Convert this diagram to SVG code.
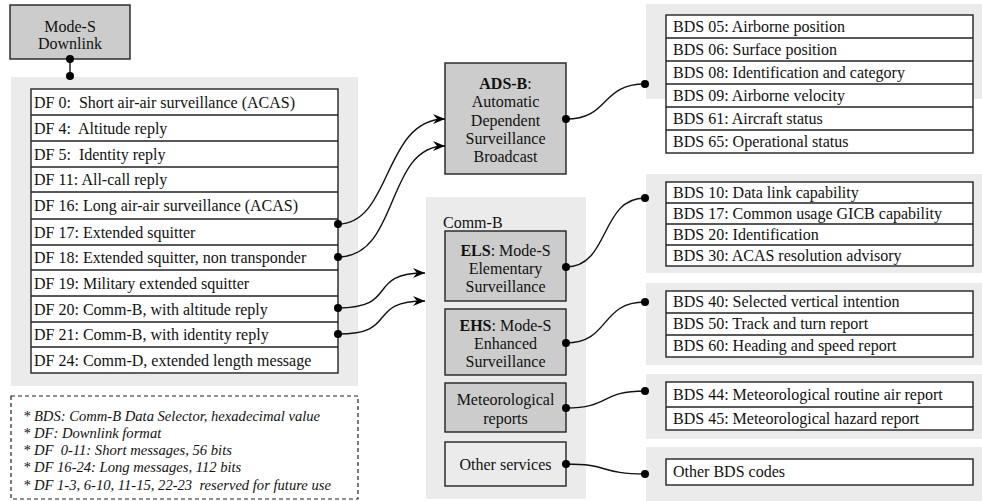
<svg xmlns="http://www.w3.org/2000/svg" width="982" height="501" viewBox="0 0 982 501">
<style>
.panel{fill:#ebebeb;stroke:none}
.node{fill:#cccccc;stroke:#222;stroke-width:1.4}
.light{fill:#ebebeb;stroke:#222;stroke-width:1.4}
.box{fill:#ffffff;stroke:#222;stroke-width:1.4}
.row{stroke:#222;stroke-width:1.4}
text{font-family:'Liberation Serif','Times New Roman',serif;font-size:16px;fill:#111}
.c{text-anchor:middle}
.it{font-style:italic;font-size:14.6px}
.conn{fill:none;stroke:#111;stroke-width:1.4}
.dot{fill:#000}
</style>
<defs>
<marker id="arr" viewBox="0 0 12 10" refX="12" refY="5" markerWidth="12" markerHeight="10" markerUnits="userSpaceOnUse" orient="auto">
<path d="M0,0 L12,5 L0,10 L4,5 z" fill="#000"/>
</marker>
</defs>

<g id="panels">
<rect class="panel" x="11" y="77" width="347" height="309"/>
<rect class="panel" x="426" y="197" width="160" height="302"/>
<rect class="panel" x="646" y="4" width="336" height="95"/>
<rect class="panel" x="646" y="174" width="336" height="99"/>
<rect class="panel" x="646" y="283" width="336" height="82"/>
<rect class="panel" x="646" y="374" width="336" height="65"/>
<rect class="panel" x="646" y="447" width="336" height="54"/>
</g>

<g id="mode-s-downlink">
<rect class="node" x="10" y="5" width="120" height="54"/>
<text class="c" x="70" y="32">Mode-S</text>
<text class="c" x="70" y="49">Downlink</text>
</g>

<g id="df-list">
<rect class="box" x="31" y="89" width="307" height="284"/>
<line class="row" x1="31" y1="115" x2="338" y2="115"/>
<line class="row" x1="31" y1="141" x2="338" y2="141"/>
<line class="row" x1="31" y1="167" x2="338" y2="167"/>
<line class="row" x1="31" y1="192" x2="338" y2="192"/>
<line class="row" x1="31" y1="219" x2="338" y2="219"/>
<line class="row" x1="31" y1="245" x2="338" y2="245"/>
<line class="row" x1="31" y1="270" x2="338" y2="270"/>
<line class="row" x1="31" y1="296" x2="338" y2="296"/>
<line class="row" x1="31" y1="322" x2="338" y2="322"/>
<line class="row" x1="31" y1="347" x2="338" y2="347"/>
<text x="34" y="108" xml:space="preserve">DF 0:  Short air-air surveillance (ACAS)</text>
<text x="34" y="134" xml:space="preserve">DF 4:  Altitude reply</text>
<text x="34" y="160" xml:space="preserve">DF 5:  Identity reply</text>
<text x="34" y="185">DF 11: All-call reply</text>
<text x="34" y="211">DF 16: Long air-air surveillance (ACAS)</text>
<text x="34" y="238">DF 17: Extended squitter</text>
<text x="34" y="263">DF 18: Extended squitter, non transponder</text>
<text x="34" y="289">DF 19: Military extended squitter</text>
<text x="34" y="315">DF 20: Comm-B, with altitude reply</text>
<text x="34" y="340">DF 21: Comm-B, with identity reply</text>
<text x="34" y="366">DF 24: Comm-D, extended length message</text>
</g>

<g id="legend">
<rect x="11" y="396" width="347" height="103" fill="none" stroke="#222" stroke-width="1.2" stroke-dasharray="4,3"/>
<text class="it" x="23" y="421">* BDS: Comm-B Data Selector, hexadecimal value</text>
<text class="it" x="23" y="438">* DF: Downlink format</text>
<text class="it" x="23" y="455" xml:space="preserve">* DF  0-11: Short messages, 56 bits</text>
<text class="it" x="23" y="472">* DF 16-24: Long messages, 112 bits</text>
<text class="it" x="23" y="490" xml:space="preserve">* DF 1-3, 6-10, 11-15, 22-23  reserved for future use</text>
</g>

<g id="ads-b">
<rect class="node" x="445" y="63" width="121" height="111"/>
<text class="c" x="505.5" y="89"><tspan font-weight="bold">ADS-B</tspan>:</text>
<text class="c" x="505.5" y="107">Automatic</text>
<text class="c" x="505.5" y="126">Dependent</text>
<text class="c" x="505.5" y="144">Surveillance</text>
<text class="c" x="505.5" y="162">Broadcast</text>
</g>

<g id="comm-b">
<text x="443" y="228">Comm-B</text>
</g>

<g id="els">
<rect class="node" x="445" y="231" width="121" height="70"/>
<text class="c" x="505.5" y="256"><tspan font-weight="bold">ELS</tspan>: Mode-S</text>
<text class="c" x="505.5" y="274">Elementary</text>
<text class="c" x="505.5" y="292">Surveillance</text>
</g>

<g id="ehs">
<rect class="node" x="445" y="309" width="121" height="66"/>
<text class="c" x="505.5" y="331"><tspan font-weight="bold">EHS</tspan>: Mode-S</text>
<text class="c" x="505.5" y="349">Enhanced</text>
<text class="c" x="505.5" y="367">Surveillance</text>
</g>

<g id="meteorological">
<rect class="node" x="445" y="383" width="121" height="49"/>
<text class="c" x="505.5" y="405">Meteorological</text>
<text class="c" x="505.5" y="424">reports</text>
</g>

<g id="other-services">
<rect class="light" x="445" y="442" width="121" height="44"/>
<text class="c" x="505.5" y="470">Other services</text>
</g>

<g id="bds-adsb">
<rect class="box" x="666" y="15" width="307" height="138"/>
<line class="row" x1="666" y1="38" x2="973" y2="38"/>
<line class="row" x1="666" y1="61" x2="973" y2="61"/>
<line class="row" x1="666" y1="84" x2="973" y2="84"/>
<line class="row" x1="666" y1="107" x2="973" y2="107"/>
<line class="row" x1="666" y1="130" x2="973" y2="130"/>
<text x="673" y="32">BDS 05: Airborne position</text>
<text x="673" y="55">BDS 06: Surface position</text>
<text x="673" y="78">BDS 08: Identification and category</text>
<text x="673" y="101">BDS 09: Airborne velocity</text>
<text x="673" y="124">BDS 61: Aircraft status</text>
<text x="673" y="147">BDS 65: Operational status</text>
</g>

<g id="bds-els">
<rect class="box" x="666" y="182" width="307" height="84"/>
<line class="row" x1="666" y1="203" x2="973" y2="203"/>
<line class="row" x1="666" y1="224" x2="973" y2="224"/>
<line class="row" x1="666" y1="245" x2="973" y2="245"/>
<text x="673" y="198">BDS 10: Data link capability</text>
<text x="673" y="219">BDS 17: Common usage GICB capability</text>
<text x="673" y="240">BDS 20: Identification</text>
<text x="673" y="261">BDS 30: ACAS resolution advisory</text>
</g>

<g id="bds-ehs">
<rect class="box" x="666" y="291" width="307" height="66"/>
<line class="row" x1="666" y1="313" x2="973" y2="313"/>
<line class="row" x1="666" y1="335" x2="973" y2="335"/>
<text x="673" y="307">BDS 40: Selected vertical intention</text>
<text x="673" y="329">BDS 50: Track and turn report</text>
<text x="673" y="351">BDS 60: Heading and speed report</text>
</g>

<g id="bds-met">
<rect class="box" x="666" y="382" width="307" height="48"/>
<line class="row" x1="666" y1="407" x2="973" y2="407"/>
<text x="673" y="400">BDS 44: Meteorological routine air report</text>
<text x="673" y="424">BDS 45: Meteorological hazard report</text>
</g>

<g id="bds-other">
<rect class="box" x="666" y="459" width="307" height="26"/>
<text x="673" y="477">Other BDS codes</text>
</g>

<g id="connectors">
<line class="conn" x1="70" y1="59" x2="70" y2="76"/>
<circle class="dot" cx="70" cy="59" r="4"/>
<circle class="dot" cx="70" cy="76" r="4"/>

<path class="conn" d="M338,224 C392,224 383,119 445,119" marker-end="url(#arr)"/>
<path class="conn" d="M338,257 C400,257 385,146 445,146" marker-end="url(#arr)"/>
<path class="conn" d="M338,308 C400,308 365,273 425,273" marker-end="url(#arr)"/>
<path class="conn" d="M338,334 C400,334 365,301 425,301" marker-end="url(#arr)"/>
<circle class="dot" cx="338" cy="224" r="4"/>
<circle class="dot" cx="338" cy="257" r="4"/>
<circle class="dot" cx="338" cy="308" r="4"/>
<circle class="dot" cx="338" cy="334" r="4"/>

<path class="conn" d="M566,119 C610,119 600,84 645,84"/>
<path class="conn" d="M566,267 C610,267 600,198 645,198"/>
<path class="conn" d="M566,343 C610,343 600,302 645,302"/>
<path class="conn" d="M566,408 C610,408 600,391 645,391"/>
<path class="conn" d="M566,464 C610,464 600,474 645,474"/>
<circle class="dot" cx="566" cy="119" r="4"/>
<circle class="dot" cx="645" cy="84" r="4"/>
<circle class="dot" cx="566" cy="267" r="4"/>
<circle class="dot" cx="645" cy="198" r="4"/>
<circle class="dot" cx="566" cy="343" r="4"/>
<circle class="dot" cx="645" cy="302" r="4"/>
<circle class="dot" cx="566" cy="408" r="4"/>
<circle class="dot" cx="645" cy="391" r="4"/>
<circle class="dot" cx="566" cy="464" r="4"/>
<circle class="dot" cx="645" cy="474" r="4"/>
</g>
</svg>
